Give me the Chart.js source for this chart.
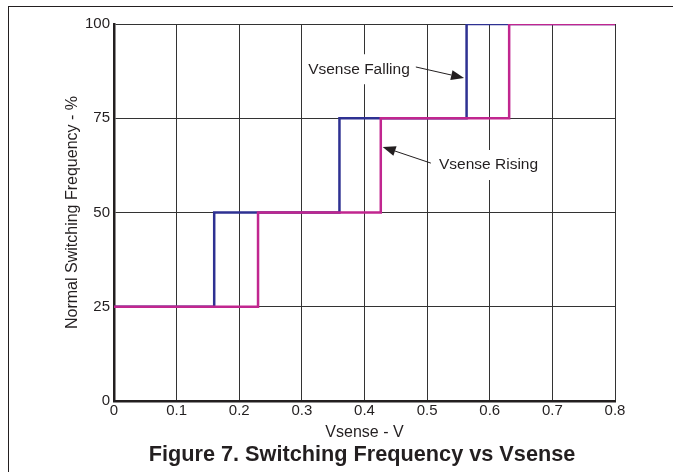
<!DOCTYPE html>
<html>
<head>
<meta charset="utf-8">
<script src="https://cdn.jsdelivr.net/npm/chart.js@4"></script>
<style>
  html, body { margin: 0; padding: 0; background: #fff; }
  #wrap { width: 673px; height: 472px; position: relative; }
</style>
</head>
<body>
<div id="wrap"><canvas id="freqChart" width="673" height="472"></canvas></div>
<script>
// Switching frequency (%) vs Vsense (V), step thresholds
const fallingX = [0, 0.16, 0.36, 0.563, 0.8];
const fallingY = [25, 50, 75, 100, 100];
const risingX = [0, 0.23, 0.426, 0.631, 0.8];
const risingY = [25, 50, 75, 100, 100];

const xTicks = [0, 0.1, 0.2, 0.3, 0.4, 0.5, 0.6, 0.7, 0.8];
const yTicks = [0, 25, 50, 75, 100];

const toPoints = (xs, ys) => xs.map((x, i) => ({ x: x, y: ys[i] }));

// callouts: text position and arrow (start -> tip), in data units
const callouts = [
  { text: 'Vsense Falling', tx: 0.31, ty: 88, from: [0.482, 88.6], to: [0.559, 85.7] },
  { text: 'Vsense Rising', tx: 0.519, ty: 62.6, from: [0.506, 63.1], to: [0.429, 67.4] }
];

const ink = '#231f20';
const font = 'Arial, "Liberation Sans", sans-serif';

const annotatePlugin = {
  id: 'annotate',
  beforeDraw(chart) {
    const c = chart.ctx;
    c.save();
    c.fillStyle = '#fff';
    c.fillRect(0, 0, chart.width, chart.height);
    // outer frame
    c.strokeStyle = ink;
    c.lineWidth = 1;
    c.strokeRect(8.5, 6.5, chart.width + 10, chart.height + 10);
    c.restore();
  },
  afterDatasetsDraw(chart) {
    const c = chart.ctx;
    const xs = chart.scales.x, ys = chart.scales.y;
    c.save();
    c.font = '15.5px ' + font;
    c.textBaseline = 'middle';
    callouts.forEach(o => {
      const px = xs.getPixelForValue(o.tx), py = ys.getPixelForValue(o.ty);
      const w = c.measureText(o.text).width;
      c.fillStyle = '#fff';
      c.fillRect(px - 5, py - 15, w + 10, 30);
      c.fillStyle = ink;
      c.fillText(o.text, px, py);
      const x1 = xs.getPixelForValue(o.from[0]), y1 = ys.getPixelForValue(o.from[1]);
      const x2 = xs.getPixelForValue(o.to[0]), y2 = ys.getPixelForValue(o.to[1]);
      const a = Math.atan2(y2 - y1, x2 - x1);
      const len = 13, half = 5;
      const bx = x2 - len * Math.cos(a), by = y2 - len * Math.sin(a);
      c.strokeStyle = ink;
      c.lineWidth = 1;
      c.beginPath();
      c.moveTo(x1, y1);
      c.lineTo(bx, by);
      c.stroke();
      c.beginPath();
      c.moveTo(x2, y2);
      c.lineTo(bx + half * Math.sin(a), by - half * Math.cos(a));
      c.lineTo(bx - half * Math.sin(a), by + half * Math.cos(a));
      c.closePath();
      c.fill();
    });
    // figure caption
    c.font = 'bold 21.7px ' + font;
    c.textAlign = 'center';
    c.fillText('Figure 7. Switching Frequency vs Vsense', 362, 455);
    c.restore();
  }
};

new Chart(document.getElementById('freqChart').getContext('2d'), {
  type: 'scatter',
  data: {
    datasets: [
      {
        label: 'Vsense Rising',
        data: toPoints(risingX, risingY),
        showLine: true,
        stepped: 'before',
        borderColor: '#c1268f',
        borderWidth: 2.5,
        pointRadius: 0,
        fill: false
      },
      {
        label: 'Vsense Falling',
        data: toPoints(fallingX, fallingY),
        showLine: true,
        stepped: 'before',
        borderColor: '#2e3192',
        borderWidth: 2.5,
        pointRadius: 0,
        fill: false
      }
    ]
  },
  options: {
    responsive: false,
    animation: false,
    layout: { padding: { top: 24, right: 58, bottom: 0, left: 0 } },
    plugins: {
      legend: { display: false },
      tooltip: { enabled: false }
    },
    scales: {
      x: {
        type: 'linear',
        min: 0,
        max: 0.8,
        afterBuildTicks: s => { s.ticks = xTicks.map(v => ({ value: v })); },
        afterFit: s => { s.height = 71; },
        ticks: {
          color: ink,
          font: { family: font, size: 15 },
          padding: 1,
          callback: v => String(v)
        },
        grid: { color: '#333', lineWidth: 1, drawTicks: false },
        border: { color: ink, width: 2.5 },
        title: {
          display: true,
          text: 'Vsense - V',
          color: ink,
          font: { family: font, size: 16 },
          padding: { top: 0, bottom: 30 }
        }
      },
      y: {
        min: 0,
        max: 100,
        afterBuildTicks: s => { s.ticks = yTicks.map(v => ({ value: v })); },
        afterFit: s => { s.width = 114; },
        ticks: {
          color: ink,
          font: { family: font, size: 15 },
          padding: 4
        },
        grid: { color: '#333', lineWidth: 1, drawTicks: false },
        border: { color: ink, width: 2.5 },
        title: {
          display: true,
          text: 'Normal Switching Frequency - %',
          color: ink,
          font: { family: font, size: 16 },
          padding: { top: 63, bottom: 0 }
        }
      }
    }
  },
  plugins: [annotatePlugin]
});
</script>
</body>
</html>
